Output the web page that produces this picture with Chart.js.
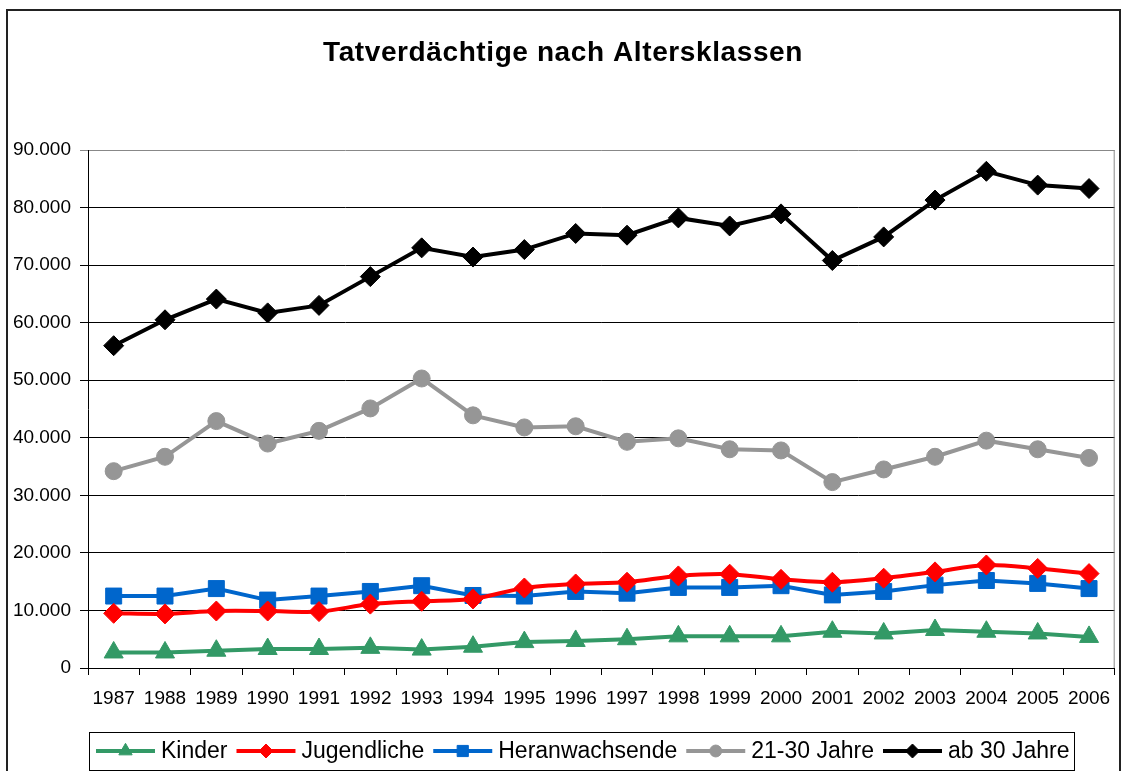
<!DOCTYPE html>
<html>
<head>
<meta charset="utf-8">
<script src="https://cdn.jsdelivr.net/npm/chart.js@4/dist/chart.umd.min.js"></script>
<style>
  body { margin: 0; background: #fff; }
  canvas { display: block; }
</style>
</head>
<body>
<canvas id="chart" width="1127" height="771"></canvas>
<script>
const years = ["1987", "1988", "1989", "1990", "1991", "1992", "1993", "1994", "1995", "1996",
  "1997", "1998", "1999", "2000", "2001", "2002", "2003", "2004", "2005", "2006"];

const kinder = [2700, 2700, 3000, 3300, 3300, 3500, 3200, 3700, 4500, 4700,
  5000, 5500, 5500, 5500, 6300, 6000, 6600, 6300, 6000, 5400];
const jugendliche = [9500, 9400, 9900, 9900, 9800, 11100, 11600, 12000, 13900, 14600,
  14900, 16000, 16300, 15400, 14900, 15600, 16700, 17900, 17300, 16400];
const heranwachsende = [12500, 12500, 13800, 11800, 12500, 13300, 14300, 12600, 12500, 13300,
  13000, 14000, 14000, 14300, 12700, 13300, 14400, 15200, 14700, 13800];
const jahre21bis30 = [34200, 36700, 42900, 39000, 41200, 45100, 50300, 43900, 41800, 42000,
  39300, 39900, 38000, 37800, 32300, 34500, 36700, 39500, 38000, 36500];
const ab30 = [56000, 60500, 64100, 61700, 63000, 68000, 73000, 71400, 72700, 75500,
  75200, 78200, 76800, 78900, 70800, 74900, 81300, 86300, 83900, 83300];

const yTicks = [0, 10000, 20000, 30000, 40000, 50000, 60000, 70000, 80000, 90000];

function formatDe(v) {
  return String(v).replace(/\B(?=(\d{3})+(?!\d))/g, ".");
}

function series(label, data, color, style, radius, tension) {
  return {
    label: label,
    data: data,
    borderColor: color,
    backgroundColor: color,
    borderWidth: 4,
    pointStyle: style,
    pointRadius: radius,
    pointBorderWidth: 1,
    pointBackgroundColor: color,
    pointBorderColor: color,
    tension: tension || 0
  };
}

// title, outer frame and boxed legend like the original Excel chart
const decorPlugin = {
  id: "decor",
  afterDraw(chart) {
    const ctx = chart.ctx;
    const area = chart.chartArea;
    ctx.save();

    ctx.strokeStyle = "#888";
    ctx.lineWidth = 1;
    ctx.beginPath();
    ctx.moveTo(area.right - 0.5, area.top);
    ctx.lineTo(area.right - 0.5, area.bottom);
    ctx.stroke();

    ctx.strokeStyle = "#222";
    ctx.lineWidth = 2;
    ctx.beginPath();
    ctx.moveTo(7, 780);
    ctx.lineTo(7, 10);
    ctx.lineTo(1120, 10);
    ctx.lineTo(1120, 780);
    ctx.stroke();

    ctx.fillStyle = "#000";
    ctx.font = 'bold 28px "Liberation Sans", Arial, sans-serif';
    ctx.letterSpacing = "0.6px";
    ctx.textAlign = "center";
    ctx.textBaseline = "alphabetic";
    ctx.fillText("Tatverdächtige nach Altersklassen", 563, 61);
    ctx.letterSpacing = "0px";

    ctx.strokeStyle = "#000";
    ctx.lineWidth = 1;
    ctx.strokeRect(89.5, 732.5, 985, 38);

    ctx.font = '23px "Liberation Sans", Arial, sans-serif';
    ctx.textAlign = "left";
    ctx.textBaseline = "middle";
    let x = 96;
    const y = 751;
    chart.data.datasets.forEach(function (ds) {
      ctx.strokeStyle = ds.borderColor;
      ctx.lineWidth = 4;
      ctx.beginPath();
      ctx.moveTo(x, y);
      ctx.lineTo(x + 59, y);
      ctx.stroke();
      ctx.fillStyle = ds.borderColor;
      ctx.lineWidth = 1;
      Chart.helpers.drawPoint(ctx, {
        pointStyle: ds.pointStyle,
        radius: ds.pointRadius * 0.7,
        rotation: 0,
        borderWidth: 1
      }, x + 29.5, y);
      ctx.fillStyle = "#000";
      ctx.fillText(ds.label, x + 65, y + 1);
      x += 65 + ctx.measureText(ds.label).width + 9;
    });

    ctx.restore();
  }
};

const ctx = document.getElementById("chart").getContext("2d");
new Chart(ctx, {
  type: "line",
  data: {
    labels: years,
    datasets: [
      series("Kinder", kinder, "#339966", "triangle", 11),
      series("Jugendliche", jugendliche, "#FF0000", "rectRot", 10, 0.3),
      series("Heranwachsende", heranwachsende, "#0066CC", "rect", 11.3),
      series("21-30 Jahre", jahre21bis30, "#969696", "circle", 8.5),
      series("ab 30 Jahre", ab30, "#000000", "rectRot", 10)
    ]
  },
  options: {
    responsive: false,
    animation: false,
    layout: { padding: { left: 8, top: 150, right: 7, bottom: 53 } },
    plugins: {
      legend: { display: false },
      title: { display: false },
      tooltip: { enabled: false }
    },
    scales: {
      x: {
        offset: true,
        afterFit: function (scale) { scale.height = 50; },
        grid: { offset: true, drawOnChartArea: false, tickLength: 7, color: "#000" },
        border: { color: "#000", width: 1 },
        ticks: {
          color: "#000",
          padding: 12,
          maxRotation: 0,
          autoSkip: false,
          font: { family: '"Liberation Sans", Arial, sans-serif', size: 19 }
        }
      },
      y: {
        min: 0,
        max: 90000,
        afterFit: function (scale) { scale.width = 80; },
        afterBuildTicks: function (scale) {
          scale.ticks = yTicks.map(function (v) { return { value: v }; });
        },
        grid: {
          tickLength: 8,
          color: function (c) { return c.tick && c.tick.value === 90000 ? "#888" : "#000"; }
        },
        border: { color: "#000", width: 1 },
        ticks: {
          color: "#000",
          padding: 9,
          callback: function (v) { return formatDe(v); },
          font: { family: '"Liberation Sans", Arial, sans-serif', size: 19 }
        }
      }
    }
  },
  plugins: [decorPlugin]
});
</script>
</body>
</html>
